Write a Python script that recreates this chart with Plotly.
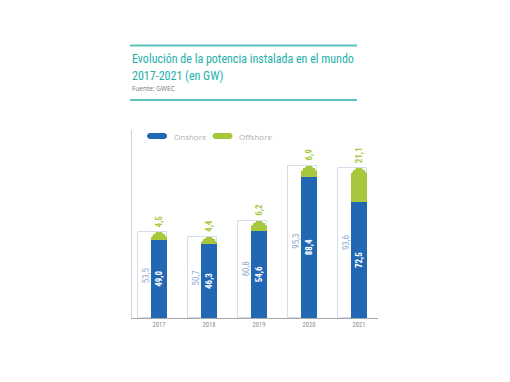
import plotly.graph_objects as go

years = ["2017", "2018", "2019", "2020", "2021"]
onshore = [49.0, 46.3, 54.6, 88.4, 72.5]
offshore = [4.5, 4.4, 6.2, 6.9, 21.1]
totals = [53.5, 50.7, 60.8, 95.3, 93.6]

BLUE = "#2167b3"
GREEN = "#a7c83d"
TEAL = "#1db1aa"
NARROW = "Liberation Sans Narrow, Roboto Condensed, DejaVu Sans Condensed, Roboto, sans-serif"

W, H = 510, 382
ML, MR, MT, MB = 132, 132, 130, 64
PW = W - ML - MR
PH = H - MT - MB


def px2x(px):
    return (px - ML) / PW


def py2y(py):
    return (H - MB - py) / PH


def fmt(v):
    return f"{v:.1f}".replace(".", ",")


xs = list(range(len(years)))

fig = go.Figure()
fig.add_trace(go.Bar(
    x=xs, y=totals, offset=-0.42, width=0.58,
    marker=dict(color="white", line=dict(color="#d3deea", width=1)),
    hoverinfo="skip", showlegend=False,
))
# offshore cap drawn as the full stack height (onshore + offshore), rounded on top,
# then covered by the onshore bar
fig.add_trace(go.Bar(
    x=xs, y=[a + b for a, b in zip(onshore, offshore)], offset=-0.16, width=0.32, name="Offshore",
    marker=dict(color=GREEN, line=dict(width=0), cornerradius=8), showlegend=False,
))
fig.add_trace(go.Bar(
    x=xs, y=onshore, offset=-0.16, width=0.32, name="Onshore",
    marker=dict(color=BLUE, line=dict(width=0)), showlegend=False,
))

ann = []
for i in xs:
    ann.append(dict(x=i - 0.26, y=totals[i] / 2, xref="x", yref="y", text=fmt(totals[i]),
                    showarrow=False, textangle=-90,
                    font=dict(family=NARROW, size=9, color="#8fabd0")))
    ann.append(dict(x=i, y=onshore[i] / 2, xref="x", yref="y", text="<b>" + fmt(onshore[i]) + "</b>",
                    showarrow=False, textangle=-90,
                    font=dict(family=NARROW, size=9, color="white")))
    ann.append(dict(x=i, y=totals[i], xref="x", yref="y", text="<b>" + fmt(offshore[i]) + "</b>",
                    showarrow=False, textangle=-90, yanchor="bottom", yshift=3,
                    font=dict(family=NARROW, size=9, color=GREEN)))

# titles
ann.append(dict(x=px2x(130), y=py2y(59), xref="paper", yref="paper", xanchor="left", yanchor="middle",
                text="Evolución de la potencia instalada en el mundo", showarrow=False,
                font=dict(family=NARROW, size=12, color=TEAL)))
ann.append(dict(x=px2x(130), y=py2y(76), xref="paper", yref="paper", xanchor="left", yanchor="middle",
                text="2017-2021 (en GW)", showarrow=False,
                font=dict(family=NARROW, size=12, color=TEAL)))
ann.append(dict(x=px2x(130), y=py2y(88), xref="paper", yref="paper", xanchor="left", yanchor="middle",
                text="Fuente: GWEC", showarrow=False,
                font=dict(family="Open Sans", size=6.5, color="#777777")))
# legend text
ann.append(dict(x=px2x(172), y=py2y(136), xref="paper", yref="paper", xanchor="left", yanchor="middle",
                text="Onshore", showarrow=False, font=dict(family="Open Sans", size=8, color="#b0b0b0")))
ann.append(dict(x=px2x(237), y=py2y(136), xref="paper", yref="paper", xanchor="left", yanchor="middle",
                text="Offshore", showarrow=False, font=dict(family="Open Sans", size=8, color="#b0b0b0")))

pill = ("M -7,-3 L 7,-3 C 8.66,-3 10,-1.66 10,0 C 10,1.66 8.66,3 7,3 "
        "L -7,3 C -8.66,3 -10,1.66 -10,0 C -10,-1.66 -8.66,-3 -7,-3 Z")
shapes = [
    dict(type="line", xref="paper", yref="paper", x0=px2x(130), x1=px2x(357), y0=py2y(45.5), y1=py2y(45.5),
         line=dict(color="#5ec3bd", width=2)),
    dict(type="line", xref="paper", yref="paper", x0=px2x(130), x1=px2x(357), y0=py2y(100), y1=py2y(100),
         line=dict(color="#5ec3bd", width=2)),
    dict(type="path", xref="paper", yref="paper", xsizemode="pixel", ysizemode="pixel",
         xanchor=px2x(157), yanchor=py2y(136), path=pill, fillcolor=BLUE, line=dict(width=0)),
    dict(type="path", xref="paper", yref="paper", xsizemode="pixel", ysizemode="pixel",
         xanchor=px2x(222.5), yanchor=py2y(136), path=pill, fillcolor=GREEN, line=dict(width=0)),
]

fig.update_layout(
    width=W, height=H, margin=dict(l=ML, r=MR, t=MT, b=MB),
    paper_bgcolor="white", plot_bgcolor="white",
    barmode="overlay", bargap=0,
    xaxis=dict(range=[-0.54, 4.38], tickvals=xs, ticktext=years, showgrid=False, zeroline=False,
               showline=True, linecolor="#a8a8a8", linewidth=1, ticks="",
               tickfont=dict(family=NARROW, size=6.5, color="#8a8a8a")),
    yaxis=dict(range=[0, PH / 1.6], showgrid=False, zeroline=False, showticklabels=False,
               showline=True, linecolor="#d0d0d0", linewidth=1, ticks=""),
    annotations=ann, shapes=shapes, showlegend=False,
)

fig.write_html("out.html", config={"displayModeBar": False},
               post_script="document.body.style.margin='0';document.body.style.padding='0';")
